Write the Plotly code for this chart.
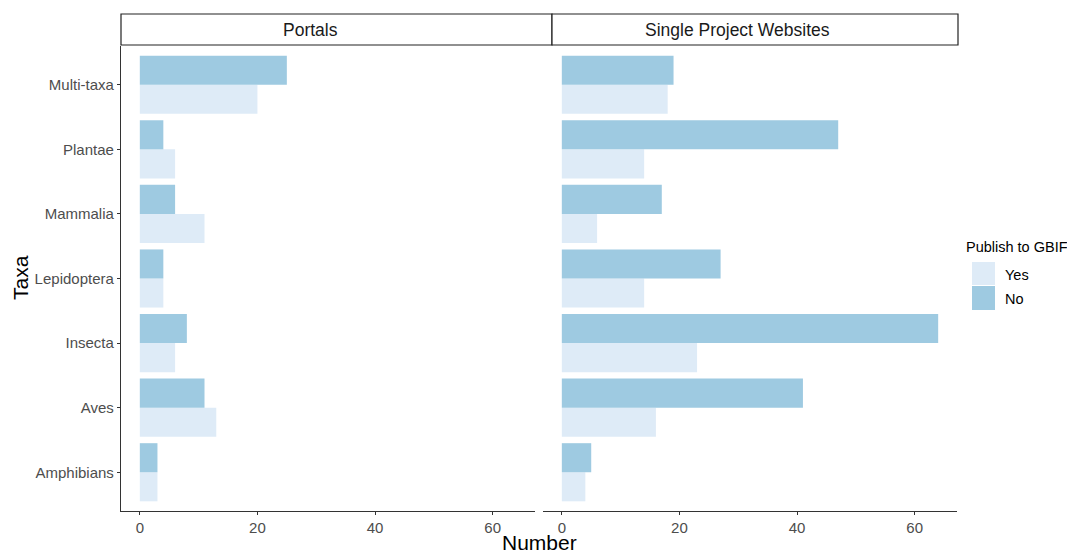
import plotly.graph_objects as go

# ---- data ----
taxa = ["Amphibians", "Aves", "Insecta", "Lepidoptera", "Mammalia", "Plantae", "Multi-taxa"]
portals_yes = [3, 13, 6, 4, 11, 6, 20]
portals_no = [3, 11, 8, 4, 6, 4, 25]
single_yes = [4, 16, 23, 14, 6, 14, 18]
single_no = [5, 41, 64, 27, 17, 47, 19]
facets = ["Portals", "Single Project Websites"]
groups = ["Yes", "No"]
x_ticks = [0, 20, 40, 60]

# ---- style ----
W, H = 1067, 550
FONT = "Liberation Sans, Arial, sans-serif"
colors = {"Yes": "#deebf7", "No": "#9ecae1"}
AXIS_COL = "#333333"
TICK_TXT = "#4d4d4d"


def px(x):
    return x / W


def py(y):
    return 1 - y / H


fig = go.Figure()
panel_data = [
    ("x", "y", portals_yes, portals_no),
    ("x2", "y2", single_yes, single_no),
]
for xa, ya, yes_vals, no_vals in panel_data:
    for g, vals in zip(groups, [yes_vals, no_vals]):
        fig.add_trace(go.Bar(
            y=taxa, x=vals, orientation="h", name=g,
            marker=dict(color=colors[g], line=dict(width=0)),
            xaxis=xa, yaxis=ya, showlegend=False,
            hovertemplate="%{y}: %{x}<extra>" + g + "</extra>",
        ))

xcommon = dict(
    range=[-3.2, 67.2], tickvals=x_ticks, showgrid=False, zeroline=False,
    showline=True, linecolor=AXIS_COL, linewidth=1.3,
    ticks="outside", ticklen=3, tickcolor=AXIS_COL, tickwidth=1,
    tickfont=dict(family=FONT, size=15, color=TICK_TXT),
)
y_dom = [py(511), py(46)]

fig.update_layout(
    width=W, height=H,
    margin=dict(l=0, r=0, t=0, b=0),
    paper_bgcolor="white", plot_bgcolor="white",
    barmode="group", bargap=0.1, bargroupgap=0,
    font=dict(family=FONT),
    showlegend=False,
    xaxis=dict(domain=[px(121), px(535)], anchor="y", **xcommon),
    xaxis2=dict(domain=[px(543), px(957)], anchor="y2", **xcommon),
    yaxis=dict(
        domain=y_dom, anchor="x", type="category",
        categoryorder="array", categoryarray=taxa, range=[-0.6, 6.6],
        showgrid=False, zeroline=False,
        showline=True, linecolor=AXIS_COL, linewidth=1.3,
        ticks="outside", ticklen=3, tickcolor=AXIS_COL, tickwidth=1,
        tickfont=dict(family=FONT, size=15, color=TICK_TXT),
    ),
    yaxis2=dict(
        domain=y_dom, anchor="x2", type="category", matches="y",
        categoryorder="array", categoryarray=taxa,
        showgrid=False, zeroline=False, showline=False,
        showticklabels=False, ticks="",
    ),
)

# ---- facet strips ----
strips = [(121, 552, 310), (552, 958, 737)]
for (x0, x1, xc), label in zip(strips, facets):
    fig.add_shape(type="rect", xref="paper", yref="paper",
                  x0=px(x0), x1=px(x1), y0=py(45), y1=py(14),
                  line=dict(color="#222222", width=1.2), fillcolor="white")
    fig.add_annotation(text=label, xref="paper", yref="paper",
                       x=px(xc), y=py(30), showarrow=False,
                       xanchor="center", yanchor="middle",
                       font=dict(family=FONT, size=17.5, color="#1a1a1a"))

# ---- axis titles ----
fig.add_annotation(text="Number", xref="paper", yref="paper",
                   x=px(539), y=py(542), showarrow=False,
                   xanchor="center", yanchor="middle",
                   font=dict(family=FONT, size=21, color="black"))
fig.add_annotation(text="Taxa", xref="paper", yref="paper",
                   x=px(20), y=py(278), showarrow=False, textangle=-90,
                   xanchor="center", yanchor="middle",
                   font=dict(family=FONT, size=21, color="black"))

# ---- legend (drawn manually to match ggplot key size) ----
fig.add_annotation(text="Publish to GBIF", xref="paper", yref="paper",
                   x=px(964), y=py(247), showarrow=False,
                   xanchor="left", yanchor="middle",
                   font=dict(family=FONT, size=14.5, color="black"))
key_rows = [(262, 285, 275), (286, 310, 299)]
for g, (k0, k1, kc) in zip(groups, key_rows):
    fig.add_shape(type="rect", xref="paper", yref="paper",
                  x0=px(972), x1=px(995), y0=py(k1), y1=py(k0),
                  line=dict(width=0), fillcolor=colors[g])
    fig.add_annotation(text=g, xref="paper", yref="paper",
                       x=px(1003), y=py(kc), showarrow=False,
                       xanchor="left", yanchor="middle",
                       font=dict(family=FONT, size=14.5, color="black"))

fig.write_html(
    "out.html",
    config={"displayModeBar": False},
    post_script="document.body.style.margin='0px';document.body.style.overflow='hidden';",
)
